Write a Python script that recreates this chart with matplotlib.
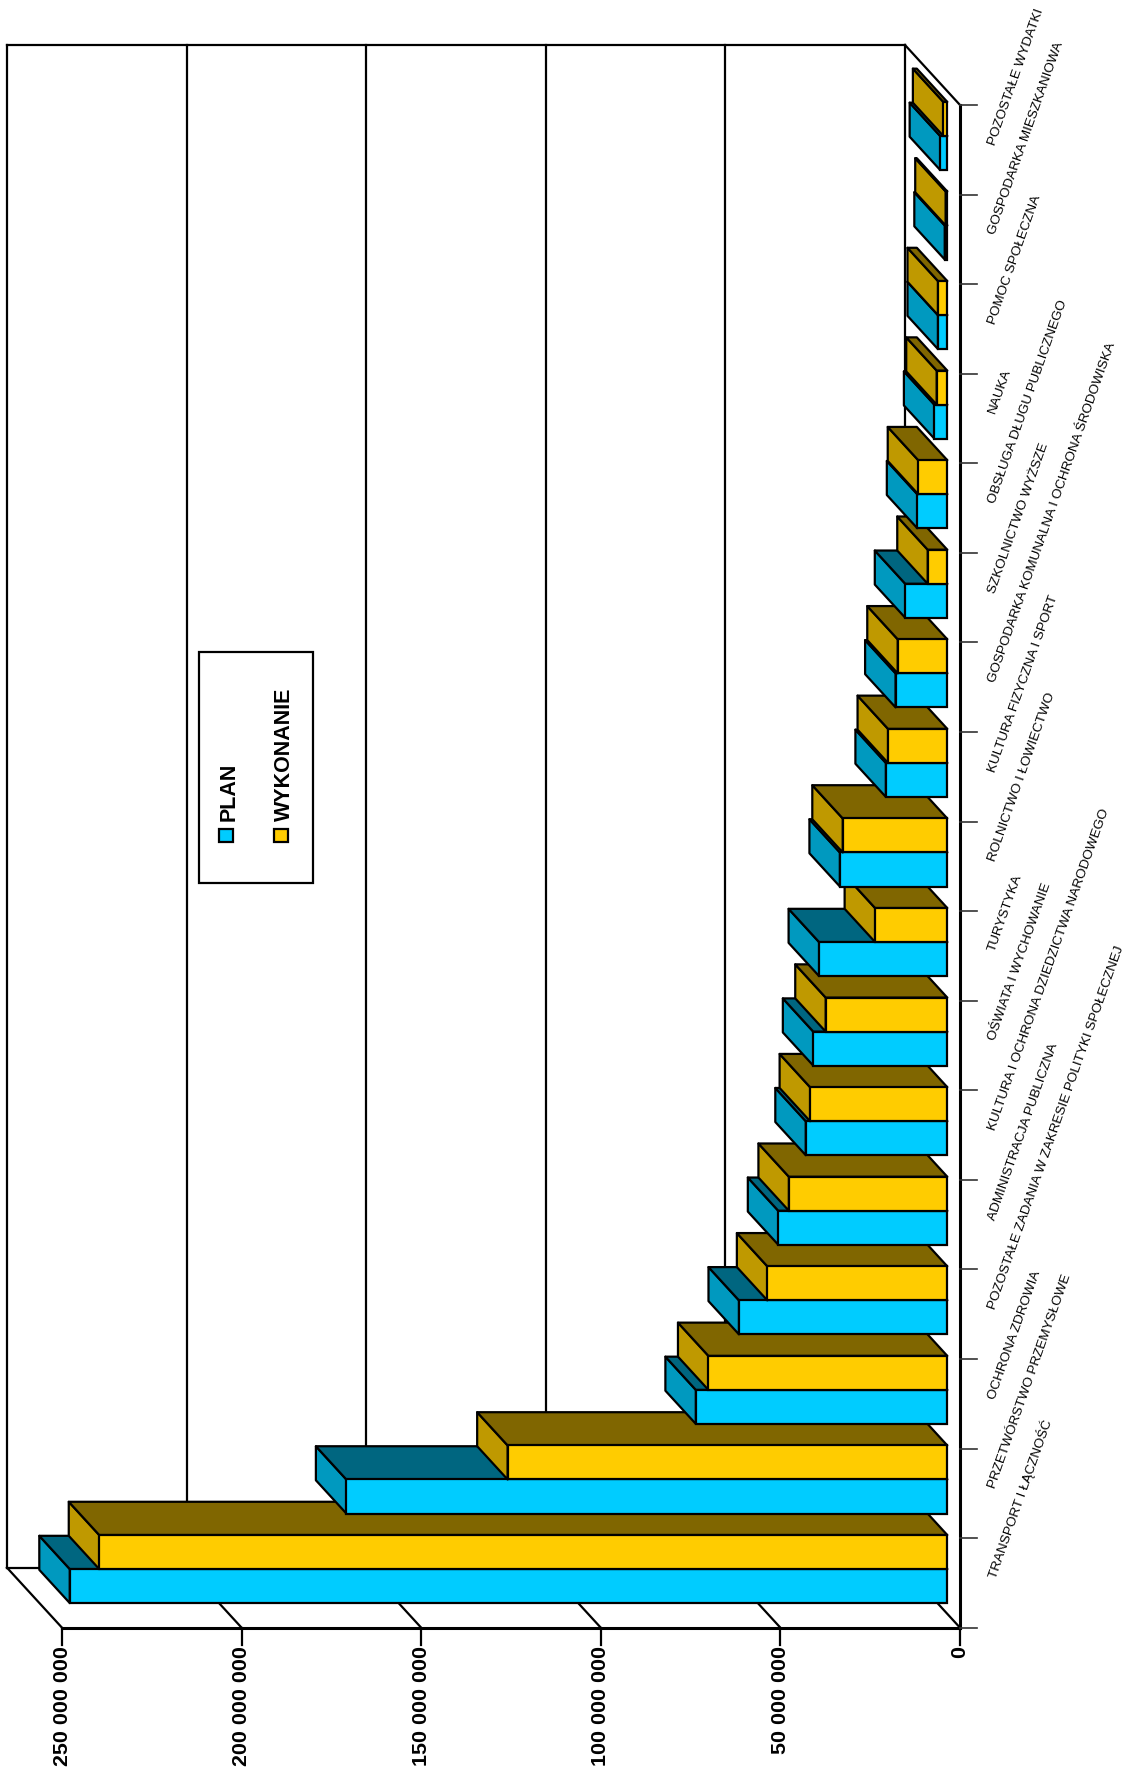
import numpy as np
import matplotlib
matplotlib.use("Agg")
import matplotlib.pyplot as plt
from matplotlib.patches import Polygon, Rectangle

plt.rcParams['font.family'] = ['Liberation Sans', 'DejaVu Sans']

W, H = 1127, 1771

# bottom to top of the picture
categories = ["TRANSPORT I ŁĄCZNOŚĆ", "PRZETWÓRSTWO PRZEMYSŁOWE", "OCHRONA ZDROWIA",
              "POZOSTAŁE ZADANIA W ZAKRESIE POLITYKI SPOŁECZNEJ", "ADMINISTRACJA PUBLICZNA",
              "KULTURA I OCHRONA DZIEDZICTWA NARODOWEGO", "OŚWIATA I WYCHOWANIE", "TURYSTYKA",
              "ROLNICTWO I ŁOWIECTWO", "KULTURA FIZYCZNA I SPORT",
              "GOSPODARKA KOMUNALNA I OCHRONA ŚRODOWISKA", "SZKOLNICTWO WYŻSZE",
              "OBSŁUGA DŁUGU PUBLICZNEGO", "NAUKA", "POMOC SPOŁECZNA",
              "GOSPODARKA MIESZKANIOWA", "POZOSTAŁE WYDATKI"]
plan = np.array([244.3, 167.3, 70.0, 58.0, 47.05, 39.4, 37.3, 35.7, 29.9,
                 17.1, 14.4, 11.7, 8.35, 3.6, 2.6, 0.7, 2.0]) * 1e6
wykonanie = np.array([236.1, 122.4, 66.5, 50.1, 44.1, 38.2, 33.85, 20.1, 29.1,
                      16.5, 13.8, 5.45, 8.1, 2.95, 2.6, 0.45, 1.1]) * 1e6
value_ticks = [0, 50e6, 100e6, 150e6, 200e6, 250e6]
value_labels = ["0", "50 000 000", "100 000 000", "150 000 000", "200 000 000", "250 000 000"]

BLUE = (0, 0.8, 1)
YELLOW = (1, 0.8, 0)


def shade(col, k):
    return tuple(c * k for c in col)


fig = plt.figure(figsize=(W / 100, H / 100), dpi=100)
ax = fig.add_axes([62 / W, 1 - 1627.7 / H, 898 / W, 1522.7 / H])
ax.set_xlim(250e6, 0)
ax.set_ylim(0, len(categories))
ax.axis("off")

# 3d shift of the back wall in data units
wall_dx = 55 * 250e6 / 898
wall_dy = 60 * len(categories) / 1522.7
lw = 1.6


def line(xs, ys, **kw):
    ax.plot(xs, ys, color="k", lw=kw.pop("lw", lw), clip_on=False, solid_capstyle="projecting", zorder=1, **kw)


top = len(categories)
# wall and floor
for v in value_ticks:
    line([v + wall_dx, v + wall_dx], [wall_dy, top + wall_dy])
    line([v, v + wall_dx], [0, wall_dy])
    line([v, v], [0, -17 * top / 1522.7])
line([wall_dx, 250e6 + wall_dx], [top + wall_dy, top + wall_dy])
line([wall_dx, 250e6 + wall_dx], [wall_dy, wall_dy])
line([0, wall_dx], [top, top + wall_dy])
line([0, 250e6], [0, 0], lw=2.2)
line([0, 0], [0, top], lw=2.2)
for i in range(top + 1):
    ax.plot([0, -17 * 250e6 / 898], [i, i], color="#333333", lw=1.2, clip_on=False, zorder=1)

# bars sit between these fractions of the floor depth
near, far = 0.231, 0.785
bar_h = 0.38
gap = 0.12


def bar3d(v, y0, col, z):
    x0 = near * wall_dx
    y0 = y0 + near * wall_dy
    ddx = (far - near) * wall_dx
    ddy = (far - near) * wall_dy
    xr = v + x0
    side = [(xr, y0), (xr + ddx, y0 + ddy), (xr + ddx, y0 + bar_h + ddy), (xr, y0 + bar_h)]
    tp = [(xr, y0 + bar_h), (xr + ddx, y0 + bar_h + ddy), (x0 + ddx, y0 + bar_h + ddy), (x0, y0 + bar_h)]
    for pts, k in ((side, 0.75), (tp, 0.5)):
        ax.add_patch(Polygon(pts, closed=True, fc=shade(col, k), ec="k", lw=lw, clip_on=False,
                             joinstyle="round", zorder=z))
    ax.add_patch(Rectangle((x0, y0), v, bar_h, fc=col, ec="k", lw=lw, clip_on=False, zorder=z))


for i in range(top):
    bar3d(plan[i], i + gap, BLUE, 2 + i * 0.01)
    bar3d(wykonanie[i], i + gap + bar_h, YELLOW, 2 + i * 0.01 + 0.005)

# tick labels
for v, s in zip(value_ticks, value_labels):
    ax.annotate(s, (v, 0), xytext=(0, -18), textcoords="offset pixels", rotation=90,
                ha="center", va="top", fontsize=15.4, fontweight="bold", annotation_clip=False)
for i, s in enumerate(categories):
    ax.annotate(s, (0, i + 0.5), xytext=(32, 5), textcoords="offset pixels", rotation=70.5,
                rotation_mode="anchor", ha="left", va="center", fontsize=9.7, annotation_clip=False)

# legend
lg = fig.add_axes([0, 0, 1, 1], facecolor="none")
lg.set_xlim(0, W)
lg.set_ylim(H, 0)
lg.axis("off")
lg.add_patch(Rectangle((198.5, 652), 114.5, 231, fc="white", ec="k", lw=lw))
for x, mx, col, s in ((229, 226, BLUE, "PLAN"), (284, 281, YELLOW, "WYKONANIE")):
    lg.add_patch(Rectangle((mx - 7, 829), 14, 13, fc=col, ec="k", lw=lw))
    lg.text(x, 821, s, rotation=90, ha="center", va="bottom", fontsize=15.5, fontweight="bold")

fig.savefig("out.png", dpi=100)
